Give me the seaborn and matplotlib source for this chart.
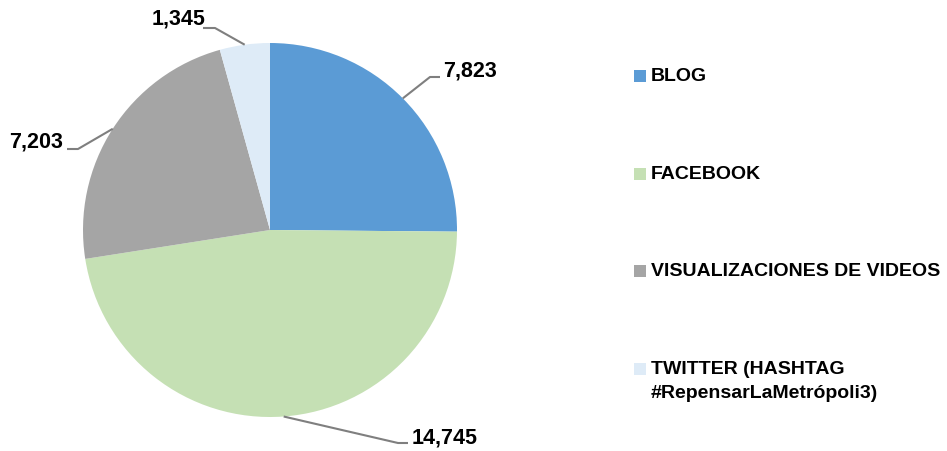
import matplotlib
matplotlib.use("Agg")
import matplotlib.pyplot as plt
from matplotlib import font_manager
import seaborn as sns
import numpy as np

categories = ["BLOG", "FACEBOOK", "VISUALIZACIONES DE VIDEOS",
              "TWITTER (HASHTAG\n#RepensarLaMetrópoli3)"]
values = [7823, 14745, 7203, 1345]
value_labels = ["7,823", "14,745", "7,203", "1,345"]
colors = ["#5B9BD5", "#C5E0B4", "#A5A5A5", "#DEEBF7"]

sns.set_style("white")
names = {f.name for f in font_manager.fontManager.ttflist}
narrow = "Liberation Sans Narrow" if "Liberation Sans Narrow" in names else "Liberation Sans"
plt.rcParams["font.family"] = [narrow, "DejaVu Sans"]

W, H = 947, 451
fig = plt.figure(figsize=(W / 100, H / 100), dpi=100)
ax = fig.add_axes([0, 0, 1, 1])

cx, cy, r = 270, H - 230, 187
wedges, _ = ax.pie(values, colors=colors, startangle=90, counterclock=False,
                   center=(cx, cy), radius=r, frame=True,
                   wedgeprops=dict(linewidth=0, edgecolor="none"))
ax.set_xlim(0, W)
ax.set_ylim(0, H)
ax.axis("off")

# leader lines: (elbow, end, text anchor, ha) in pixel coords from top-left
leaders = [
    ((430, 77), (440, 77), (443, 71), "left"),
    ((398, 443), (408, 443), (412, 438), "left"),
    ((78, 149), (67, 149), (63, 142), "right"),
    ((215, 28), (203, 28), (205, 19), "right"),
]
for w, lab, (elb, end, txt, ha) in zip(wedges, value_labels, leaders):
    ang = np.deg2rad((w.theta1 + w.theta2) / 2)
    px, py = cx + r * np.cos(ang), cy + r * np.sin(ang)
    ax.plot([px, elb[0], end[0]], [py, H - elb[1], H - end[1]],
            color="#7F7F7F", lw=1.5, solid_capstyle="butt")
    ax.text(txt[0], H - txt[1], lab, ha=ha, va="center", fontsize=15.5,
            fontweight="bold", color="black")

# legend
rows = [75, 173, 270, 368]
for cat, col, y in zip(categories, colors, rows):
    ax.add_patch(plt.Rectangle((634, H - y - 6.5), 12, 12, color=col, lw=0))
    ax.text(651, H - y + 7, cat, ha="left", va="top", fontsize=14,
            fontweight="bold", color="black", linespacing=1.55)

fig.savefig("out.png", dpi=100)
